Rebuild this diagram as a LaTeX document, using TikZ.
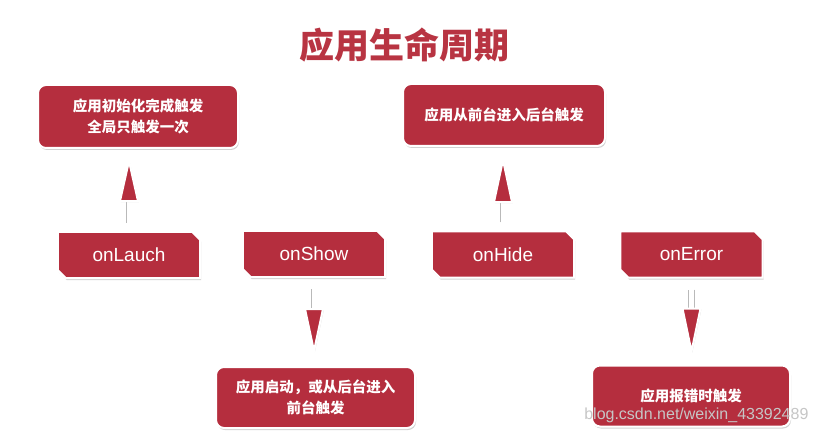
\documentclass[tikz,border=0pt]{standalone}
\usepackage{fontspec}
\setmainfont{Liberation Sans}
\newfontfamily\cjk{Noto Sans CJK SC}
\usetikzlibrary{shadows,calc,backgrounds}
\definecolor{boxred}{RGB}{181,46,62}
\definecolor{titlered}{RGB}{184,52,66}
\tikzset{
  descbox/.style={rectangle, rounded corners=8pt, fill=boxred, draw=white, line width=2pt,
    minimum width=200pt, minimum height=63pt, text=white, align=center,
    font=\cjk\bfseries\fontsize{14.5}{21}\selectfont,
    drop shadow={opacity=0.35, shadow xshift=1pt, shadow yshift=-2pt}},
  evnode/.style={rectangle, minimum width=142pt, minimum height=46pt, inner sep=0pt,
    text=white, font=\fontsize{19}{21}\selectfont},
  evshape/.style={fill=boxred, draw=white, line width=2pt, line join=miter,
    drop shadow={opacity=0.35, shadow xshift=1pt, shadow yshift=-2pt}},
  shaft/.style={line width=0.8pt, draw=gray!55, double=white, double distance=5pt},
  tri/.style={fill=boxred, draw=white, line width=2pt, line join=miter,
    drop shadow={opacity=0.3, shadow xshift=0.8pt, shadow yshift=-1.2pt}},
}
\newcommand{\chamfbox}[1]{%
  \path[evshape] (#1.north west) -- ($(#1.north east)+(-8,0)$) -- ($(#1.north east)+(0,8)$)
    -- (#1.south east) -- ($(#1.south west)+(8,0)$) -- ($(#1.south west)+(0,-8)$) -- cycle;}
\begin{document}
\begin{tikzpicture}[x=1pt,y=-1pt]
\useasboundingbox (0,0) rectangle (819,433);

\node[text=titlered, font=\cjk\bfseries\fontsize{35}{40}\selectfont] (title) at (404,45) {应用生命周期};

\node[descbox] (b1) at (138,116.5) {应用初始化完成触发\\全局只触发一次};
\node[descbox, minimum width=202pt, minimum height=62pt] (b2) at (504,115) {应用从前台进入后台触发};
\node[descbox, minimum width=199pt, minimum height=61pt] (b3) at (315.5,397.5) {应用启动，或从后台进入\\前台触发};
\node[descbox, minimum width=198pt, minimum height=61pt] (b4) at (691,396) {应用报错时触发};

\node[evnode] (e1) at (129,255) {onLauch};
\node[evnode] (e2) at (314,254) {onShow};
\node[evnode] (e3) at (503,254.5) {onHide};
\node[evnode] (e4) at (691.5,254.5) {onError};
\begin{scope}[on background layer]
\fill[white] (0,0) rectangle (819,433);
\chamfbox{e1}\chamfbox{e2}\chamfbox{e3}\chamfbox{e4}
\end{scope}

% up arrows
\coordinate (s1) at ($(e1.north)+(0,-9)$);
\coordinate (t1) at ($(e1.north |- b1.south)+(0,12)$);
\draw[shaft] (s1) -- ($(t1)+(0,38)$);
\path[tri] (t1) -- ++(-9,40) -- ++(18,0) -- cycle;

\coordinate (s3) at ($(e3.north)+(0,-9)$);
\coordinate (t3) at ($(e3.north |- b2.south)+(0,13)$);
\draw[shaft] (s3) -- ($(t3)+(0,40)$);
\path[tri] (t3) -- ++(-9,42) -- ++(18,0) -- cycle;

% down arrows
\coordinate (s2) at ($(e2.south)+(0,12)$);
\coordinate (t2) at ($(e2.south |- b3.north)+(0,-15)$);
\draw[shaft] (s2) -- ($(t2)+(0,-40)$);
\path[tri] (t2) -- ++(-9,-42) -- ++(18,0) -- cycle;

\coordinate (s4) at ($(e4.south)+(0,12)$);
\coordinate (t4) at ($(e4.south |- b4.north)+(0,-13)$);
\draw[shaft] (s4) -- ($(t4)+(0,-42)$);
\path[tri] (t4) -- ++(-9,-43) -- ++(18,0) -- cycle;

\node[anchor=east, text=gray!45, font=\fontsize{16}{18}\selectfont] (wm) at (812,415) {blog.csdn.net/weixin\_43392489};
\end{tikzpicture}
\end{document}
